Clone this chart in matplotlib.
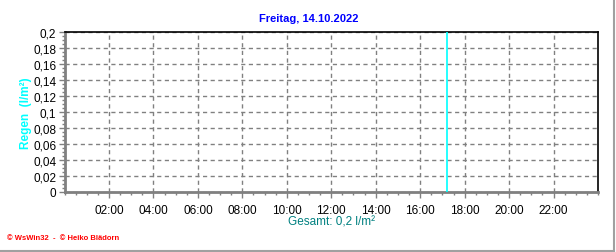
import matplotlib
matplotlib.use('Agg')
import matplotlib.pyplot as plt
from matplotlib.lines import Line2D
from matplotlib.ticker import MultipleLocator, FixedLocator

# Daten
title = 'Freitag, 14.10.2022'
ylabel = 'Regen  (l/m²)'
total_text = 'Gesamt: 0,2 l/m²'
footer = '© WsWin32  -  © Heiko Blädorn'

rain_hours = [17.2]     # Uhrzeit in Stunden
rain_values = [0.2]     # Regen in l/m²

x_ticks = [2, 4, 6, 8, 10, 12, 14, 16, 18, 20, 22]
x_labels = ['02:00', '04:00', '06:00', '08:00', '10:00', '12:00',
            '14:00', '16:00', '18:00', '20:00', '22:00']
y_ticks = [0, 0.02, 0.04, 0.06, 0.08, 0.1, 0.12, 0.14, 0.16, 0.18, 0.2]

plt.rcParams['font.family'] = ['Liberation Sans', 'DejaVu Sans']

W, H = 616, 253
fig = plt.figure(figsize=(W / 100, H / 100), dpi=100)
ax = fig.add_axes([64.5 / W, (H - 193) / H, (598 - 64.5) / W, (193 - 33) / H])

ax.vlines(rain_hours, 0, rain_values, color='#00ffff', linewidth=1.2, zorder=3)

ax.set_xlim(0, 24)
ax.set_ylim(0, 0.2)

ax.xaxis.set_major_locator(FixedLocator(x_ticks))
ax.set_xticklabels(x_labels)
ax.xaxis.set_minor_locator(MultipleLocator(0.5))
ax.yaxis.set_major_locator(FixedLocator(y_ticks))
ax.set_yticklabels([('%g' % v).replace('.', ',') for v in y_ticks])
ax.yaxis.set_minor_locator(MultipleLocator(0.005))

ax.tick_params(axis='both', which='major', length=4, width=1, color='#808080',
               labelsize=8.5, labelcolor='black', direction='out')
ax.tick_params(axis='x', which='major', pad=5)
ax.tick_params(axis='y', which='major', pad=2)
ax.tick_params(axis='both', which='minor', length=2, width=1, color='#808080')

ax.grid(True, which='major', color='#808080', linestyle=(0, (3, 2.5)), linewidth=1)
ax.set_axisbelow(True)

for s in ['left', 'bottom']:
    ax.spines[s].set_color('#808080')
    ax.spines[s].set_linewidth(2)
for s in ['top', 'right']:
    ax.spines[s].set_color('black')
    ax.spines[s].set_linewidth(1.2)

fig.text(309 / W, 1 - 19 / H, title, color='#0000ff', fontsize=8, fontweight='bold',
         ha='center', va='center')
fig.text(26 / W, 1 - 113 / H, ylabel, color='#00ffff', fontsize=8.5, fontweight='bold',
         rotation=90, ha='center', va='center')
fig.text(331 / W, 1 - 223 / H, total_text, color='#008080', fontsize=8.5,
         ha='center', va='center')
fig.text(7 / W, 1 - 239 / H, footer, color='#ff0000', fontsize=5.5, fontweight='bold',
         ha='left', va='center')

# grauer Rahmen rechts und unten
fig.add_artist(Line2D([614 / W, 614 / W], [1 / H, 1], color='#a0a0a0', linewidth=1.5))
fig.add_artist(Line2D([0, 614 / W], [1.5 / H, 1.5 / H], color='#a0a0a0', linewidth=1.5))

fig.savefig('out.png', dpi=100, facecolor='white')
